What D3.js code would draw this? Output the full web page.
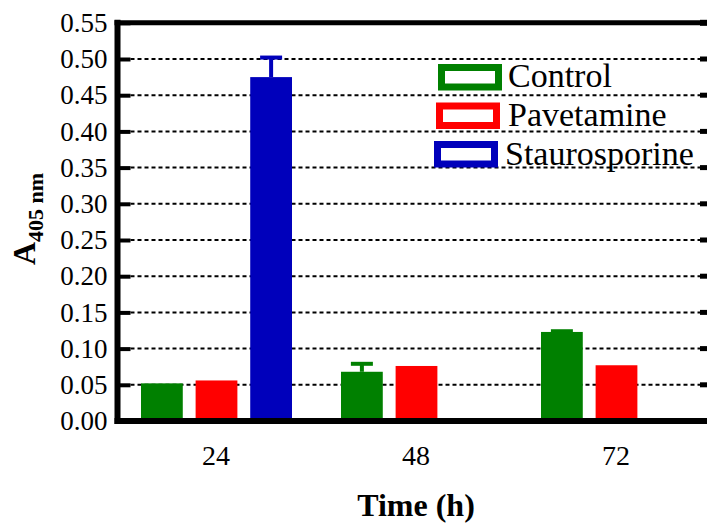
<!DOCTYPE html>
<html>
<head>
<meta charset="utf-8">
<script src="https://cdn.jsdelivr.net/npm/d3@7"></script>
<style>
    body { margin: 0; background: white; }
</style>
</head>
<body>
<div id="chart-area"></div>
<script>
// data
let times = ["24", "48", "72"];
let seriesNames = ["Control", "Pavetamine", "Staurosporine"];
let controlValues = [0.052, 0.068, 0.123];
let controlErrors = [0, 0.011, 0.001];
let pavetamineValues = [0.056, 0.076, 0.077];
let pavetamineErrors = [0, 0, 0];
let staurosporineValues = [0.475, null, null];
let staurosporineErrors = [0.027, 0, 0];
let yTicks = [0, 0.05, 0.10, 0.15, 0.20, 0.25, 0.30, 0.35, 0.40, 0.45, 0.50, 0.55];
let seriesColors = ["#008000", "#ff0000", "#0000bb"];

const FONT = "'Liberation Serif', 'Times New Roman', Times, serif";


class BarVis {

    constructor(parentElement){
        this.parentElement = parentElement;
        this.initVis();
    }

    initVis(){
        let vis = this;

        vis.width = 707;
        vis.height = 524;

        vis.svg = d3.select("#" + vis.parentElement).append("svg")
            .attr("width", vis.width)
            .attr("height", vis.height)
            .attr("font-family", FONT);

        // scales
        vis.x = d3.scaleBand()
            .domain(times)
            .range([116, 716]);

        vis.xSub = d3.scaleBand()
            .domain(seriesNames)
            .range([25, 176])
            .paddingInner(0.235);

        vis.y = d3.scaleLinear()
            .domain([0, 0.55])
            .range([421, 22.8]);

        vis.plotLeft = 117.5;
        vis.plotRight = 707;

        this.wrangleData();
    }

    wrangleData(){
        let vis = this;

        let values = [controlValues, pavetamineValues, staurosporineValues];
        let errors = [controlErrors, pavetamineErrors, staurosporineErrors];

        vis.displayData = [];
        seriesNames.forEach((s, i) => {
            times.forEach((t, j) => {
                if (values[i][j] === null) return;
                vis.displayData.push({
                    series: s,
                    time: t,
                    value: values[i][j],
                    err: errors[i][j],
                    color: seriesColors[i]
                });
            });
        });

        vis.updateVis();
    }

    updateVis(){
        let vis = this;

        // dashed grid lines
        vis.svg.append("g")
            .attr("class", "grid")
            .selectAll("line")
            .data(yTicks.filter(d => d > 0 && d < 0.55))
            .enter().append("line")
            .attr("x1", vis.plotLeft + 13)
            .attr("x2", vis.plotRight - 6)
            .attr("y1", d => vis.y(d))
            .attr("y2", d => vis.y(d))
            .attr("stroke", "black")
            .attr("stroke-width", 2)
            .attr("stroke-dasharray", "4,3");

        // bars
        vis.svg.append("g")
            .selectAll(".bar")
            .data(vis.displayData)
            .enter().append("rect")
            .attr("class", "bar")
            .attr("x", d => vis.x(d.time) + vis.xSub(d.series))
            .attr("y", d => vis.y(d.value))
            .attr("width", vis.xSub.bandwidth())
            .attr("height", d => vis.y(0) - vis.y(d.value))
            .attr("fill", d => d.color);

        // error bars (upper only)
        let errData = vis.displayData.filter(d => d.err > 0);
        let cx = d => vis.x(d.time) + vis.xSub(d.series) + vis.xSub.bandwidth() / 2;
        let eb = vis.svg.append("g").attr("class", "errorbars");
        eb.selectAll(".stem")
            .data(errData)
            .enter().append("line")
            .attr("x1", cx)
            .attr("x2", cx)
            .attr("y1", d => vis.y(d.value))
            .attr("y2", d => vis.y(d.value + d.err))
            .attr("stroke", d => d.color)
            .attr("stroke-width", 4);
        eb.selectAll(".cap")
            .data(errData)
            .enter().append("line")
            .attr("x1", d => cx(d) - 11)
            .attr("x2", d => cx(d) + 11)
            .attr("y1", d => vis.y(d.value + d.err))
            .attr("y2", d => vis.y(d.value + d.err))
            .attr("stroke", d => d.color)
            .attr("stroke-width", 4);

        // y axis
        vis.yAxis = d3.axisLeft(vis.y)
            .tickValues(yTicks)
            .tickFormat(d3.format(".2f"))
            .tickSize(-13)
            .tickSizeOuter(0)
            .tickPadding(10);

        let yg = vis.svg.append("g")
            .attr("class", "y-axis")
            .attr("transform", `translate(${vis.plotLeft}, 0)`)
            .call(vis.yAxis)
            .attr("font-family", FONT)
            .attr("font-size", 27);
        yg.select(".domain").remove();
        yg.selectAll(".tick line")
            .attr("stroke", "black")
            .attr("stroke-width", 4);
        yg.selectAll(".tick text")
            .attr("fill", "black");

        // right side ticks at the edge
        vis.svg.append("g")
            .selectAll("line")
            .data(yTicks.filter(d => d > 0))
            .enter().append("line")
            .attr("x1", vis.plotRight - 7)
            .attr("x2", vis.plotRight)
            .attr("y1", d => vis.y(d))
            .attr("y2", d => vis.y(d))
            .attr("stroke", "black")
            .attr("stroke-width", d => d === 0.55 ? 6 : 5);

        // frame: left, top
        vis.svg.append("line")
            .attr("x1", vis.plotLeft).attr("x2", vis.plotLeft)
            .attr("y1", vis.y(0.55) - 3).attr("y2", vis.y(0) + 3)
            .attr("stroke", "black").attr("stroke-width", 6);
        vis.svg.append("line")
            .attr("x1", vis.plotLeft - 3).attr("x2", vis.plotRight)
            .attr("y1", vis.y(0.55)).attr("y2", vis.y(0.55))
            .attr("stroke", "black").attr("stroke-width", 5);

        // x axis
        vis.xAxis = d3.axisBottom(vis.x)
            .tickSize(0)
            .tickSizeOuter(0)
            .tickPadding(24);

        let xg = vis.svg.append("g")
            .attr("class", "x-axis")
            .attr("transform", `translate(0, ${vis.y(0)})`)
            .call(vis.xAxis)
            .attr("font-family", FONT)
            .attr("font-size", 28);
        xg.select(".domain").remove();
        xg.selectAll(".tick text")
            .attr("fill", "black");

        vis.svg.append("line")
            .attr("x1", vis.plotLeft - 3).attr("x2", vis.plotRight)
            .attr("y1", vis.y(0)).attr("y2", vis.y(0))
            .attr("stroke", "black").attr("stroke-width", 6);

        // axis titles
        vis.svg.append("text")
            .attr("x", 416)
            .attr("y", 516)
            .attr("text-anchor", "middle")
            .attr("font-size", 32)
            .attr("font-weight", "bold")
            .text("Time (h)");

        let yLabel = vis.svg.append("text")
            .attr("transform", "translate(35, 219) rotate(-90)")
            .attr("text-anchor", "middle")
            .attr("font-weight", "bold")
            .attr("font-size", 32);
        yLabel.append("tspan").text("A");
        yLabel.append("tspan")
            .attr("font-size", 22)
            .attr("dy", 8)
            .text("405 nm");

        // legend
        let legend = vis.svg.append("g").attr("class", "legend");
        let legendX = [441.5, 439.5, 437.5];
        let legendTextX = [508, 508, 505];
        seriesNames.forEach((s, i) => {
            legend.append("rect")
                .attr("x", legendX[i])
                .attr("y", 67.5 + i * 38.5)
                .attr("width", 57)
                .attr("height", 19.5)
                .attr("fill", "white")
                .attr("stroke", seriesColors[i])
                .attr("stroke-width", 7);
            legend.append("text")
                .attr("x", legendTextX[i])
                .attr("y", 87 + i * 39)
                .attr("font-size", 34)
                .text(s);
        });
    }
}

new BarVis("chart-area");
</script>
</body>
</html>
